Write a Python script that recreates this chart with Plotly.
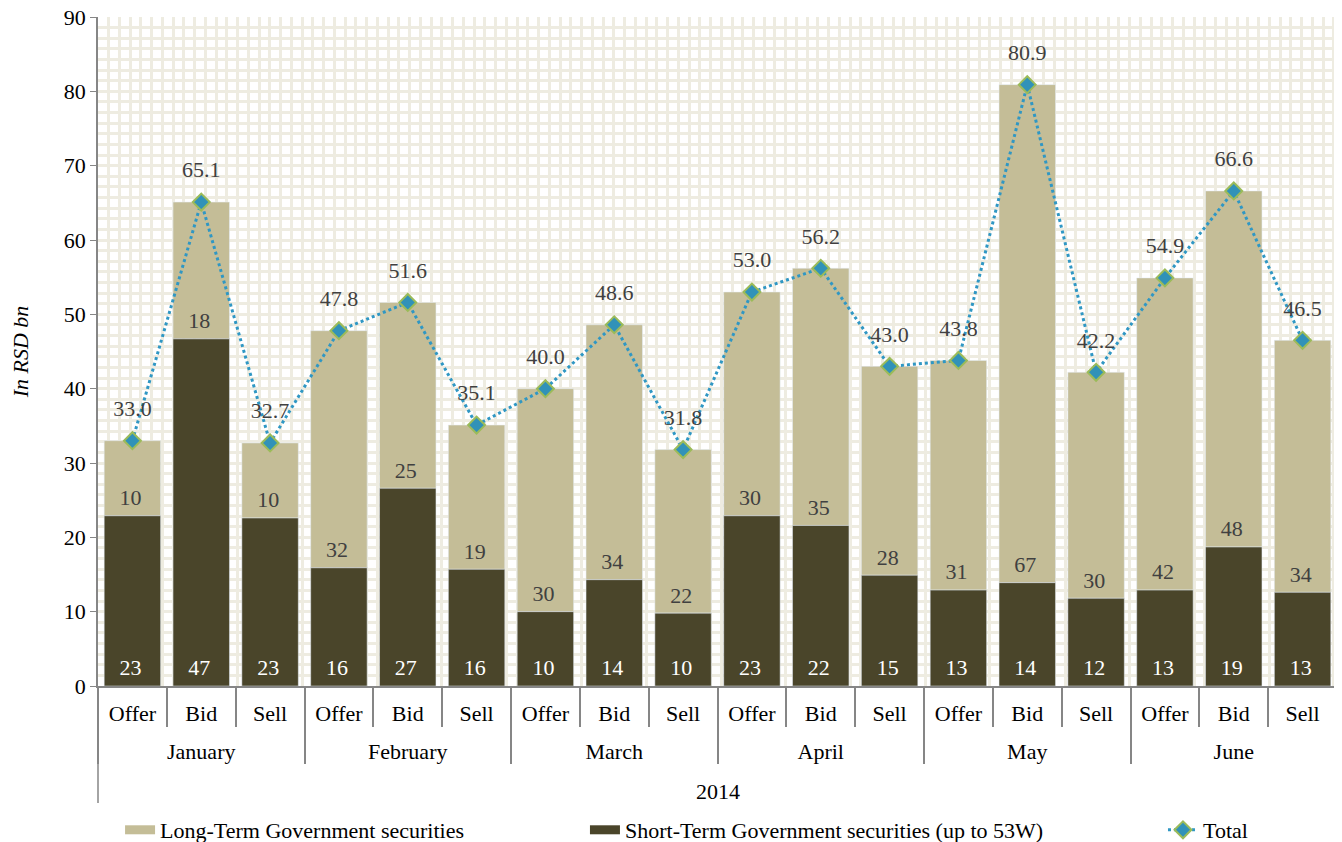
import plotly.graph_objects as go

# Government securities auctions, 2014 (RSD bn)
months = ["January", "February", "March", "April", "May", "June"]
kinds = ["Offer", "Bid", "Sell"]
year_label = "2014"

short_term = [22.9, 46.7, 22.6, 15.9, 26.6, 15.7, 10.0, 14.3, 9.8,
              22.9, 21.6, 14.9, 12.9, 13.9, 11.8, 12.9, 18.7, 12.6]
long_term = [10.1, 18.4, 10.1, 31.9, 25.0, 19.4, 30.0, 34.3, 22.0,
             30.1, 34.6, 28.1, 30.9, 67.0, 30.4, 42.0, 47.9, 33.9]
total = [33.0, 65.1, 32.7, 47.8, 51.6, 35.1, 40.0, 48.6, 31.8,
         53.0, 56.2, 43.0, 43.8, 80.9, 42.2, 54.9, 66.6, 46.5]

# a blank raised second line under the first label row leaves room
# for the month row, as in the original chart
spacer = "<br><sup>\u00a0</sup>"
x_month = [m for m in months for _ in kinds]
x_kind = [k + spacer for k in kinds] * len(months)
x = [x_month, x_kind]

name_long = "Long-Term Government securities"
name_short = "Short-Term Government securities (up to 53W)"

font_family = "Liberation Serif, Times New Roman, serif"
fs = 22
grid_col = "#EEECE1"
axis_col = "#868686"
long_col = "#C4BD97"
short_col = "#4A452A"
label_col = "#404040"

# bar value labels sit a little above the bar base (subscript pad)
bar_tpl = "%{y:.0f}<sub>\u00a0</sub>"

fig = go.Figure()

# legend-only entries (wide swatches); they also sit on the overlay grid axis
fig.add_trace(go.Scatter(x=[None], y=[None], xaxis="x2", mode="lines",
                         name=name_long, legend="legend",
                         line=dict(color=long_col, width=9), hoverinfo="skip"))
fig.add_trace(go.Scatter(x=[None], y=[None], xaxis="x2", mode="lines",
                         name=name_short, legend="legend2",
                         line=dict(color=short_col, width=9), hoverinfo="skip"))
# empty trace for the category-boundary tick axis
fig.add_trace(go.Scatter(x=[None], y=[None], xaxis="x3", showlegend=False,
                         hoverinfo="skip"))

fig.add_trace(go.Bar(
    x=x, y=long_term, name=name_long, showlegend=False,
    marker=dict(color=long_col), base=short_term, offsetgroup="a",
    texttemplate=bar_tpl, textposition="inside", insidetextanchor="start",
    textangle=0, constraintext="none",
    textfont=dict(color=label_col, size=fs, family=font_family),
))
fig.add_trace(go.Bar(
    x=x, y=short_term, name=name_short, showlegend=False,
    marker=dict(color=short_col), offsetgroup="a",
    texttemplate=bar_tpl, textposition="inside", insidetextanchor="start",
    textangle=0, constraintext="none",
    textfont=dict(color="white", size=fs, family=font_family),
))
fig.add_trace(go.Scatter(
    x=x, y=total, name="Total", mode="lines+markers", legend="legend3",
    line=dict(color="#2F97C4", width=3, dash="dot"),
    marker=dict(symbol="diamond", size=13, color="#3192B8",
                line=dict(color="#9BBB59", width=2)),
))
# total labels, lifted by a larger transparent marker
fig.add_trace(go.Scatter(
    x=x, y=total, mode="markers+text", showlegend=False, hoverinfo="skip",
    marker=dict(size=29, color="rgba(0,0,0,0)"),
    text=[f"{v:.1f}" for v in total], textposition="top center",
    textfont=dict(color=label_col, size=fs, family=font_family),
    cliponaxis=False,
))

leg = dict(orientation="h", xref="container", yref="container",
           xanchor="left", yanchor="middle", y=0.0144,
           bgcolor="rgba(0,0,0,0)", font=dict(size=fs))

# page body adds an 8px offset, so the figure is 8px smaller each way
fig.update_layout(
    width=1334, height=834,
    margin=dict(l=90, r=5, t=9, b=156),
    paper_bgcolor="white", plot_bgcolor="white",
    font=dict(family=font_family, size=fs, color="black"),
    barmode="overlay", bargap=0.18,
    showlegend=True,
    legend=dict(leg, x=0.0840),
    legend2=dict(leg, x=0.4325),
    legend3=dict(leg, x=0.8658),
    xaxis=dict(
        type="multicategory", range=[-0.5, 17.5], automargin=False,
        showgrid=False, showline=True, linecolor=axis_col, linewidth=1.5,
        ticks="outside", ticklen=6, tickcolor=axis_col, tickwidth=1.5,
        ticklabelstandoff=7,
        dividercolor=axis_col, dividerwidth=1.5,
        tickfont=dict(size=fs),
    ),
    xaxis2=dict(
        overlaying="x", anchor="y", range=[0, 115.3], dtick=1,
        showgrid=True, gridcolor=grid_col, gridwidth=3, automargin=False,
        showticklabels=False, ticks="", showline=False, zeroline=False,
    ),
    xaxis3=dict(
        overlaying="x", anchor="y", side="bottom", range=[-0.5, 17.5],
        tick0=0.5, dtick=1, ticks="outside", ticklen=40, tickwidth=1.5,
        tickcolor=axis_col, showticklabels=False, showgrid=False,
        showline=False, zeroline=False, automargin=False,
    ),
    yaxis=dict(
        range=[0, 90], dtick=10, showgrid=True, gridcolor=grid_col,
        gridwidth=3, zeroline=False, automargin=False,
        minor=dict(dtick=10 / 7, showgrid=True, gridcolor=grid_col,
                   gridwidth=3, ticks=""),
        showline=True, linecolor=axis_col, linewidth=1.5,
        ticks="outside", ticklen=6, tickcolor=axis_col,
        ticklabeloverflow="allow",
        tickfont=dict(size=fs),
        title=dict(text="<i>In RSD bn</i>", font=dict(size=fs), standoff=34),
    ),
)

fig.add_annotation(text=year_label, xref="paper", yref="paper",
                   x=0.5, y=-0.158, showarrow=False, yanchor="middle",
                   font=dict(size=fs))
for side in (0, 1):
    fig.add_shape(type="line", xref="paper", yref="paper",
                  x0=side, x1=side, y0=0, y1=-0.175,
                  line=dict(color=axis_col, width=1.5))

fig.write_html("out.html")
